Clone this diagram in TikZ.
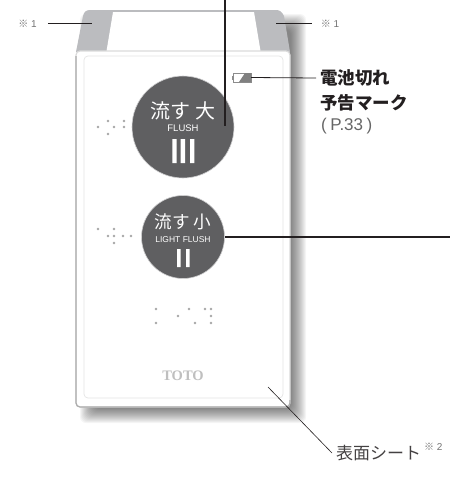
\documentclass[tikz,border=0pt]{standalone}
\usepackage{fontspec}
\setmainfont{Liberation Sans}
\newfontfamily\cjk{Noto Sans CJK JP}
\newfontfamily\logofont{Liberation Serif}
\usetikzlibrary{calc}
\definecolor{btn}{HTML}{5F5F61}
\definecolor{sidegray}{HTML}{BBBCBF}
\definecolor{ink}{HTML}{231F20}
\tikzset{
  leader/.style={draw=ink,line width=0.8pt},
  heavy/.style={draw=ink,line width=1.7pt},
  flushbtn/.style={circle,fill=btn,draw=white!70!btn,line width=0.6pt,inner sep=0pt},
  bar/.style={fill=white,draw=none},
  dot/.style={circle,fill=black!35,inner sep=0pt,minimum size=2.8pt},
  note/.style={inner sep=0pt,text=black!55,font=\fontsize{10}{12}\selectfont},
  jlabel/.style={inner sep=0pt,anchor=west,text=ink,font=\cjk\bfseries\fontsize{17.5}{20}\selectfont},
  btntext/.style={inner sep=0pt,text=white},
}
\begin{document}
\begin{tikzpicture}[x=1pt,y=-1pt]
\useasboundingbox (0,0) rectangle (450,477);
% soft shadow
\foreach \i in {0,...,15}
  \fill[black,opacity=.04,rounded corners=6pt] ({80+\i},{14+\i}) rectangle ({306-\i},{423-\i});
% top block
\path[fill=sidegray,draw=none] (76,52) -- (83,16) .. controls (84,12) and (86,10) .. (90,10) -- (276,10) .. controls (280,10) and (282,12) .. (284,16) -- (290,52) -- cycle;
\path[fill=white] (113,12) -- (254,12) -- (260.5,51) -- (106.5,51) -- cycle;
% body
\draw[fill=white,draw=black!14,line width=1.2pt,rounded corners=4pt] (76,51) rectangle (290,407);
\draw[draw=black!32,line width=1.2pt,rounded corners=4pt] (76,56) -- (76,407) -- (290,407) -- (290,400);
\draw[draw=black!10,line width=0.7pt,rounded corners=4pt] (84,56) rectangle (283,398);
% braille
\foreach \p in {(98,127),(108,121),(114,127),(108,134),(124,121),(124,127),
  (98,229),(114,229),(108,236),(114,236),(114,243),(123,236),(131,236),
  (156,309),(156,323),(178,316),(189,309),(195,323),(205,309),(211,309),(211,316),(211,323)}
  \node[dot] at \p {};
% buttons
\node[flushbtn,minimum size=102pt] (big) at (183,127) {};
\node[flushbtn,minimum size=83pt] (small) at (183,237) {};
\node[btntext,font=\cjk\fontsize{20}{22}\selectfont] (bigt) at (183,111) {流す 大};
\node[btntext,font=\fontsize{9.5}{10}\selectfont] (bigf) at (183,128) {FLUSH};
\fill[bar] (172.3,139) rectangle (176.7,163) (180.7,139) rectangle (185,163) (190,139) rectangle (194.3,163);
\node[btntext,font=\cjk\fontsize{17.6}{20}\selectfont] (smallt) at (183,222) {流す 小};
\node[btntext,font=\fontsize{8.5}{10}\selectfont] (smallf) at (183,240) {LIGHT FLUSH};
\fill[bar] (177,249) rectangle (180.7,267) (186,249) rectangle (189.5,267);
% logo
\node[inner sep=0pt,text=black!25,font=\logofont\bfseries\fontsize{14.5}{16}\selectfont] (logo) at (183,376) {TOTO};
% battery
\draw[draw=black!45,fill=white,line width=0.5pt] (233.5,73) rectangle (251,82);
\fill[black!45] (232,75.5) rectangle (233.5,79.5);
\fill[black!50] (239,82) -- (245,73) -- (251,73) -- (251,82) -- cycle;
\coordinate (batt) at (251,77.5);
% labels
\node[jlabel] (lab1) at (320,78) {電池切れ};
\node[jlabel] (lab2) at (320,102.5) {予告マーク};
\node[inner sep=0pt,anchor=west,text=black!60,font=\fontsize{17}{19}\selectfont] (lab3) at (321,126) {(\hspace{3.5pt}P.33\hspace{3.5pt})};
\node[note] (n1) at (27.5,24) {{\cjk ※} 1};
\node[note] (n2) at (330,24) {{\cjk ※} 1};
\node[inner sep=0pt,anchor=west,text=ink!85,font=\cjk\fontsize{17}{20}\selectfont] (sheet) at (336,453) {表面シート};
\node[inner sep=0pt,anchor=west,text=black!55,font=\fontsize{10}{12}\selectfont] (sheetnote) at (424,447) {{\cjk ※} 2};
% connectors
\coordinate (topend) at (225,0);
\coordinate (bigend) at (225,126);
\coordinate (rightend) at (450,237);
\coordinate (smallend) at (225,237);
\coordinate (n1end) at (92,23.5);
\coordinate (n2end) at (276,23.5);
\coordinate (sheetend) at (268,387);
\draw[heavy] (topend) -- (bigend);
\draw[heavy] (smallend) -- (rightend);
\draw[leader] (batt) -- ($(lab1.west)+(-4,0)$);
\draw[leader] ($(n1.east)+(11,-0.5)$) -- (n1end);
\draw[leader] (n2end) -- ($(n2.west)+(-9,-0.5)$);
\draw[draw=ink,line width=0.6pt] (sheetend) -- ($(sheet.west)+(-4,0)$);
\end{tikzpicture}
\end{document}
